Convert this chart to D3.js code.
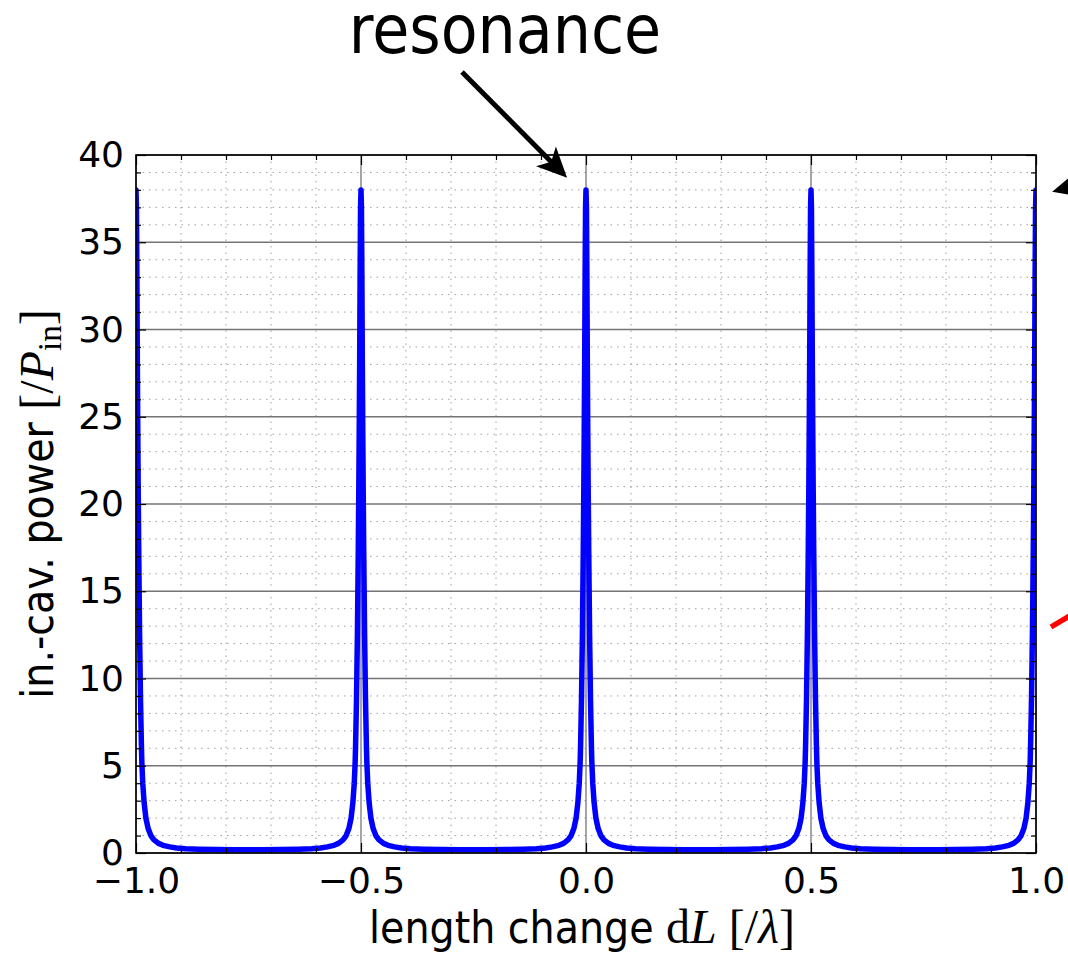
<!DOCTYPE html>
<html>
<head>
<meta charset="utf-8">
<script src="https://cdn.jsdelivr.net/npm/d3@7"></script>
<style>
  body { margin: 0; background: #fff; }
  svg { display: block; }
</style>
</head>
<body>
<svg id="chart" width="1068" height="954"></svg>
<script>
// Resonance peaks (dL/lambda) and one peak's shape
const peakCenters = [-1.0, -0.5, 0.0, 0.5, 1.0];
const profileOffset = [0, 0.001, 0.002, 0.003, 0.004, 0.005, 0.006, 0.007, 0.008, 0.010, 0.012, 0.013,
                       0.015, 0.018, 0.022, 0.027, 0.033, 0.040, 0.050, 0.060, 0.075, 0.090, 0.110,
                       0.140, 0.180, 0.220, 0.250];
const profilePower = [38.0, 37.0, 33.0, 28.0, 24.0, 20.5, 17.5, 15.0, 12.5, 8.8, 6.2, 5.2,
                      4.0, 2.9, 2.0, 1.4, 1.0, 0.75, 0.55, 0.44, 0.35, 0.29, 0.25,
                      0.22, 0.20, 0.19, 0.19];

const xTicks = [-1.0, -0.5, 0.0, 0.5, 1.0];
const yTicks = [0, 5, 10, 15, 20, 25, 30, 35, 40];
const xMinor = [-0.9, -0.8, -0.7, -0.6, -0.4, -0.3, -0.2, -0.1, 0.1, 0.2, 0.3, 0.4, 0.6, 0.7, 0.8, 0.9];
const yMinor = d3.range(0, 41, 1).filter(v => v % 5 !== 0);

// build the curve: the same peak shape at every resonance
const curve = [];
peakCenters.forEach(c => {
    profileOffset.forEach((d, i) => {
        curve.push([c - d, profilePower[i]]);
        if (d > 0) curve.push([c + d, profilePower[i]]);
    });
});
curve.sort((a, b) => a[0] - b[0]);

const svg = d3.select("#chart");
const plotL = 136, plotR = 1036, plotT = 155, plotB = 853;

const x = d3.scaleLinear().domain([-1, 1]).range([plotL, plotR]);
const y = d3.scaleLinear().domain([0, 40]).range([plotB, plotT]);

svg.append("rect").attr("width", 1068).attr("height", 954).attr("fill", "#fff");

svg.append("defs").append("clipPath").attr("id", "plotClip")
    .append("rect")
    .attr("x", plotL).attr("y", plotT)
    .attr("width", plotR - plotL).attr("height", plotB - plotT);

// grid
const grid = svg.append("g");
grid.selectAll(".minx").data(xMinor).enter().append("line")
    .attr("x1", d => x(d)).attr("x2", d => x(d))
    .attr("y1", plotT).attr("y2", plotB)
    .attr("stroke", "#a0a0a0").attr("stroke-width", 1).attr("stroke-dasharray", "1.5,5");
grid.selectAll(".miny").data(yMinor).enter().append("line")
    .attr("x1", plotL).attr("x2", plotR)
    .attr("y1", d => y(d)).attr("y2", d => y(d))
    .attr("stroke", "#a0a0a0").attr("stroke-width", 1).attr("stroke-dasharray", "1.5,5");
grid.selectAll(".majx").data(xTicks).enter().append("line")
    .attr("x1", d => x(d)).attr("x2", d => x(d))
    .attr("y1", plotT).attr("y2", plotB)
    .attr("stroke", "#757575").attr("stroke-width", 1.3);
grid.selectAll(".majy").data(yTicks).enter().append("line")
    .attr("x1", plotL).attr("x2", plotR)
    .attr("y1", d => y(d)).attr("y2", d => y(d))
    .attr("stroke", "#757575").attr("stroke-width", 1.3);

// the power curve
const line = d3.line().x(d => x(d[0])).y(d => y(d[1]));
svg.append("path")
    .datum(curve)
    .attr("clip-path", "url(#plotClip)")
    .attr("d", line)
    .attr("fill", "none")
    .attr("stroke", "#0000ff")
    .attr("stroke-width", 5.5)
    .attr("stroke-linejoin", "round");

// axes, ticks pointing inwards
const tickFont = "'DejaVu Sans', sans-serif";
function styleAxis(g) {
    g.select(".domain").remove();
    g.selectAll(".tick line").attr("stroke", "#000").attr("stroke-width", 1.2);
    g.selectAll(".tick text").attr("fill", "#000")
        .style("font-family", tickFont).style("font-size", "36px");
}

svg.append("g").attr("transform", `translate(0,${plotB})`)
    .call(d3.axisBottom(x).tickValues(xTicks).tickSize(-10).tickPadding(14).tickFormat(d3.format(".1f")))
    .call(styleAxis);
svg.append("g").attr("transform", `translate(0,${plotB})`)
    .call(d3.axisBottom(x).tickValues(xMinor).tickSize(-5).tickFormat(""))
    .call(styleAxis);
svg.append("g").attr("transform", `translate(0,${plotT})`)
    .call(d3.axisTop(x).tickValues(xTicks).tickSize(-10).tickFormat(""))
    .call(styleAxis);
svg.append("g").attr("transform", `translate(0,${plotT})`)
    .call(d3.axisTop(x).tickValues(xMinor).tickSize(-5).tickFormat(""))
    .call(styleAxis);

svg.append("g").attr("transform", `translate(${plotL},0)`)
    .call(d3.axisLeft(y).tickValues(yTicks).tickSize(-10).tickPadding(12))
    .call(styleAxis);
svg.append("g").attr("transform", `translate(${plotL},0)`)
    .call(d3.axisLeft(y).tickValues(yMinor).tickSize(-5).tickFormat(""))
    .call(styleAxis);
svg.append("g").attr("transform", `translate(${plotR},0)`)
    .call(d3.axisRight(y).tickValues(yTicks).tickSize(-10).tickFormat(""))
    .call(styleAxis);
svg.append("g").attr("transform", `translate(${plotR},0)`)
    .call(d3.axisRight(y).tickValues(yMinor).tickSize(-5).tickFormat(""))
    .call(styleAxis);

// frame
svg.append("rect")
    .attr("x", plotL).attr("y", plotT)
    .attr("width", plotR - plotL).attr("height", plotB - plotT)
    .attr("fill", "none").attr("stroke", "#000").attr("stroke-width", 1.6);

// axis labels
const labelFont = "'DejaVu Sans Condensed', 'DejaVu Sans', sans-serif";
const mathFont = "'Liberation Serif', 'DejaVu Serif', serif";

const xl = svg.append("text")
    .attr("x", (plotL + plotR) / 2 - 4).attr("y", 943)
    .attr("text-anchor", "middle")
    .style("font-family", labelFont).style("font-stretch", "condensed")
    .style("font-size", "44px").attr("fill", "#000");
xl.append("tspan").text("length change ");
xl.append("tspan").style("font-family", mathFont).style("font-size", "48px").text("d");
xl.append("tspan").style("font-family", mathFont).style("font-size", "48px").style("font-style", "italic").text("L");
xl.append("tspan").style("font-family", mathFont).style("font-size", "48px").text(" [/");
xl.append("tspan").style("font-family", mathFont).style("font-size", "48px").style("font-style", "italic").text("λ");
xl.append("tspan").style("font-family", mathFont).style("font-size", "48px").text("]");

const yl = svg.append("text")
    .attr("transform", `translate(53,${(plotT + plotB) / 2}) rotate(-90)`)
    .attr("text-anchor", "middle")
    .style("font-family", labelFont).style("font-stretch", "condensed")
    .style("font-size", "44px").attr("fill", "#000");
yl.append("tspan").text("in.-cav. power ");
yl.append("tspan").style("font-family", mathFont).style("font-size", "48px").text("[/");
yl.append("tspan").style("font-family", mathFont).style("font-size", "48px").style("font-style", "italic").text("P");
yl.append("tspan").style("font-family", mathFont).style("font-size", "33px").attr("dy", 8).text("in");
yl.append("tspan").style("font-family", mathFont).style("font-size", "48px").attr("dy", -8).text("]");

// annotations
function arrowHead(g, tip, dir, len, half, color) {
    const n = Math.hypot(dir[0], dir[1]);
    const ux = dir[0] / n, uy = dir[1] / n;
    const bx = tip[0] - ux * len, by = tip[1] - uy * len;
    const nx = bx + ux * len * 0.25, ny = by + uy * len * 0.25;
    g.append("path")
        .attr("d", `M${tip[0]},${tip[1]} L${bx - uy * half},${by + ux * half} L${nx},${ny} L${bx + uy * half},${by - ux * half} Z`)
        .attr("fill", color);
}

svg.append("text")
    .attr("x", 505).attr("y", 53)
    .attr("text-anchor", "middle")
    .style("font-family", labelFont).style("font-stretch", "condensed")
    .style("font-size", "67px").attr("fill", "#000")
    .text("resonance");

const ann = svg.append("g");
// arrow to the peak at 0
const tip1 = [x(-0.042), y(38.7)];
const tail1 = [462, 72];
ann.append("line")
    .attr("x1", tail1[0]).attr("y1", tail1[1])
    .attr("x2", tip1[0] - 14).attr("y2", tip1[1] - 14)
    .attr("stroke", "#000").attr("stroke-width", 5);
arrowHead(ann, tip1, [tip1[0] - tail1[0], tip1[1] - tail1[1]], 30, 14, "#000");

// arrow to the peak at 1.0, coming from outside the picture
const tip2 = [x(1.036), y(37.9)];
const tail2 = [1160, 163];
ann.append("line")
    .attr("x1", tail2[0]).attr("y1", tail2[1])
    .attr("x2", tip2[0] + 22).attr("y2", tip2[1] - 6)
    .attr("stroke", "#000").attr("stroke-width", 5);
arrowHead(ann, tip2, [tip2[0] - tail2[0], tip2[1] - tail2[1]], 30, 14, "#000");

// red line entering at the right edge
ann.append("line")
    .attr("x1", 1051).attr("y1", 627)
    .attr("x2", 1120).attr("y2", 586)
    .attr("stroke", "#ff0000").attr("stroke-width", 5.5);
</script>
</body>
</html>
